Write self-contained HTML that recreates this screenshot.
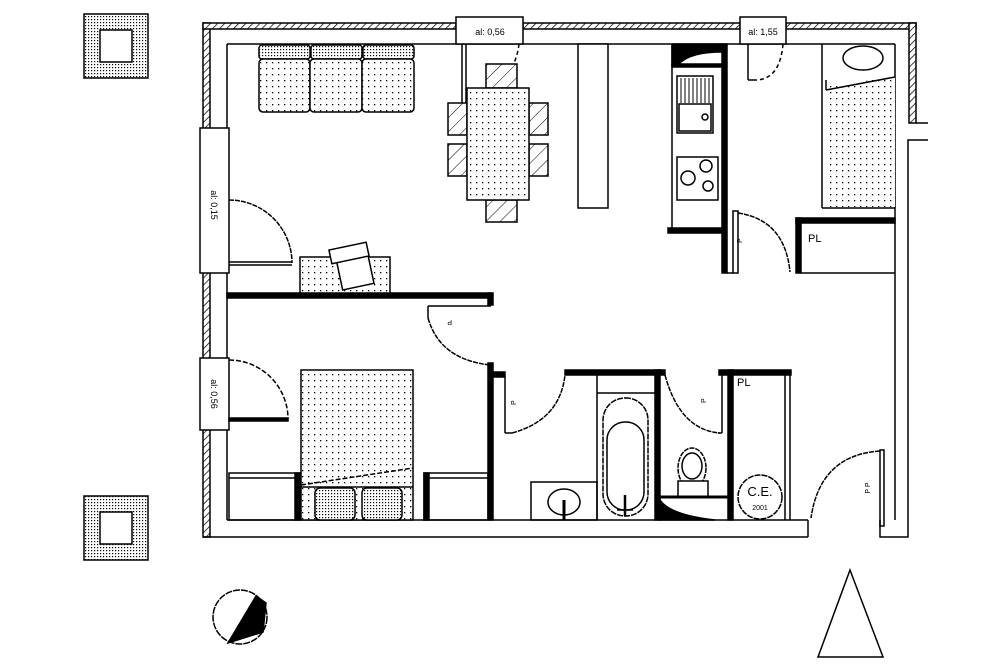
<!DOCTYPE html>
<html><head><meta charset="utf-8"><style>html,body{margin:0;padding:0;background:#fff}svg{display:block}</style></head>
<body>
<svg width="1000" height="667" viewBox="0 0 1000 667" xmlns="http://www.w3.org/2000/svg" font-family="Liberation Sans, sans-serif">
<defs>
<pattern id="dots" width="6" height="6" patternUnits="userSpaceOnUse"><rect width="6" height="6" fill="#fff"/><rect x="2" y="2" width="1.3" height="1.3" fill="#000"/></pattern>
<pattern id="fdots" width="3" height="3" patternUnits="userSpaceOnUse"><rect width="3" height="3" fill="#fff"/><rect x="1" y="1" width="1.2" height="1.2" fill="#000"/></pattern>
<pattern id="hatch" width="5" height="5" patternUnits="userSpaceOnUse" patternTransform="rotate(45)"><rect width="5" height="5" fill="#fff"/><line x1="0" y1="0" x2="0" y2="5" stroke="#000" stroke-width="1.5"/></pattern>
<pattern id="chair" width="10" height="10" patternUnits="userSpaceOnUse" patternTransform="rotate(45)"><rect width="10" height="10" fill="#fff"/><line x1="0" y1="0" x2="0" y2="10" stroke="#000" stroke-width="1"/></pattern>
</defs>
<g fill="none" stroke="#000" stroke-width="1.5">
<rect x="84" y="14" width="64" height="64" fill="url(#fdots)"/><rect x="100" y="30" width="32" height="32" fill="#fff"/>
<rect x="84" y="496" width="64" height="64" fill="url(#fdots)"/><rect x="100" y="512" width="32" height="32" fill="#fff"/>
<rect x="203" y="23" width="7" height="107" fill="url(#hatch)"/>
<rect x="203" y="272" width="7" height="88" fill="url(#hatch)"/>
<rect x="203" y="428" width="7" height="109" fill="url(#hatch)"/>
<rect x="203" y="23" width="253" height="6" fill="url(#hatch)"/>
<rect x="523" y="23" width="217" height="6" fill="url(#hatch)"/>
<rect x="786" y="23" width="130" height="6" fill="url(#hatch)"/>
<rect x="909" y="23" width="7" height="100" fill="url(#hatch)"/>
<line x1="227" y1="44" x2="895" y2="44"/>
<line x1="227" y1="44" x2="227" y2="520"/>
<line x1="895" y1="44" x2="895" y2="273"/>
<line x1="895" y1="273" x2="895" y2="520"/>
<polyline points="916,123 928,123"/>
<polyline points="928,140 908,140 908,537 880,537 880,520"/>
<line x1="203" y1="537" x2="808" y2="537"/>
<line x1="227" y1="520" x2="808" y2="520"/>
<line x1="808" y1="520" x2="808" y2="537"/>
<rect x="456" y="17" width="67" height="27" fill="#fff"/>
<text x="490" y="35" font-size="9" fill="#000" stroke="none" text-anchor="middle">al: 0,56</text>
<rect x="740" y="17" width="46" height="27" fill="#fff"/>
<text x="763" y="35" font-size="9" fill="#000" stroke="none" text-anchor="middle">al: 1,55</text>
<rect x="200" y="128" width="29" height="145" fill="#fff"/>
<text transform="translate(211,205) rotate(90)" font-size="9" fill="#000" stroke="none" text-anchor="middle">al: 0,15</text>
<rect x="200" y="358" width="29" height="72" fill="#fff"/>
<text transform="translate(211,394) rotate(90)" font-size="9" fill="#000" stroke="none" text-anchor="middle">al: 0,56</text>
<line x1="462" y1="44" x2="462" y2="105"/><line x1="466" y1="44" x2="466" y2="105"/>
<path d="M519,44 Q515,80 475,105" stroke-dasharray="4,3"/>
<line x1="748" y1="44" x2="748" y2="80"/><line x1="748" y1="80" x2="755" y2="80"/>
<path d="M783,44 Q780,80 755,80" stroke-dasharray="4,3"/>
<path d="M229,200 A63,63 0 0 1 292,263" stroke-dasharray="5,1"/>
<line x1="229" y1="262" x2="292" y2="262"/><line x1="229" y1="265" x2="292" y2="265"/>
<g fill="url(#fdots)"><rect x="259" y="45" width="51" height="14" rx="3"/><rect x="311" y="45" width="51" height="14" rx="3"/><rect x="363" y="45" width="51" height="14" rx="3"/></g>
<g fill="url(#dots)"><rect x="259" y="59" width="51" height="53" rx="4"/><rect x="310" y="59" width="52" height="53" rx="4"/><rect x="362" y="59" width="52" height="53" rx="4"/></g>
<g fill="url(#chair)"><rect x="486" y="64" width="31" height="24"/><rect x="486" y="200" width="31" height="22"/>
<rect x="448" y="103" width="19" height="32"/><rect x="448" y="144" width="19" height="32"/>
<rect x="529" y="103" width="19" height="32"/><rect x="529" y="144" width="19" height="32"/></g>
<rect x="467" y="88" width="62" height="112" fill="url(#dots)"/>
<rect x="578" y="44" width="30" height="164" fill="#fff"/>
<rect x="300" y="257" width="90" height="37" fill="url(#dots)"/>
<rect x="339" y="255" width="32" height="32" transform="rotate(-12 355 271)" fill="#fff"/>
<rect x="330" y="246" width="38" height="14" transform="rotate(-12 349 253)" fill="#fff"/>
<rect x="227" y="293" width="264" height="5" fill="#000"/>
<rect x="488" y="293" width="5" height="12" fill="#000"/>
<line x1="428" y1="306" x2="491" y2="306"/><line x1="428" y1="306" x2="428" y2="318"/>
<path d="M428,318 Q440,360 491,365" stroke-dasharray="5,1"/>
<text transform="translate(452,320) rotate(180)" font-size="7" fill="#000" stroke="none">P</text>
<rect x="488" y="363" width="5" height="157" fill="#000"/>
<path d="M229,360 A59,59 0 0 1 288,419" stroke-dasharray="5,2"/>
<rect x="229" y="418" width="59" height="3" fill="#000"/>
<rect x="301" y="370" width="112" height="150" fill="url(#dots)"/>
<line x1="301" y1="487" x2="413" y2="487"/>
<line x1="301" y1="485" x2="413" y2="468" stroke-dasharray="5,2"/>
<g fill="url(#fdots)"><rect x="315" y="488" width="40" height="32" rx="5"/><rect x="362" y="488" width="40" height="32" rx="5"/></g>
<rect x="229" y="473" width="71" height="47"/><line x1="229" y1="478" x2="295" y2="478"/><rect x="295" y="473" width="5" height="47" fill="#000"/>
<rect x="424" y="473" width="64" height="47"/><line x1="429" y1="478" x2="488" y2="478"/><rect x="424" y="473" width="5" height="47" fill="#000"/>
<rect x="493" y="372" width="12" height="5" fill="#000"/>
<line x1="505" y1="377" x2="505" y2="433"/><line x1="505" y1="433" x2="512" y2="433"/>
<path d="M512,433 Q560,420 565,375" stroke-dasharray="5,1"/>
<text transform="translate(516,405) rotate(-90)" font-size="7" fill="#000" stroke="none">P</text>
<rect x="565" y="370" width="95" height="5" fill="#000"/>
<rect x="655" y="370" width="5" height="150" fill="#000"/>
<line x1="597" y1="375" x2="597" y2="520"/>
<line x1="597" y1="393" x2="655" y2="393"/>
<rect x="603" y="398" width="45" height="118" rx="22" stroke-dasharray="6,1"/>
<rect x="607" y="422" width="37" height="88" rx="18"/>
<line x1="625" y1="495" x2="625" y2="516" stroke-width="2.5"/>
<line x1="617" y1="510" x2="633" y2="510"/>
<rect x="531" y="482" width="66" height="38"/>
<ellipse cx="564" cy="502" rx="16" ry="13"/><line x1="564" y1="500" x2="564" y2="520" stroke-width="3"/>
<rect x="660" y="370" width="5" height="5" fill="#000"/>
<path d="M665,375 Q680,430 720,433" stroke-dasharray="5,1"/>
<line x1="722" y1="372" x2="722" y2="433"/><line x1="722" y1="433" x2="718" y2="433"/>
<text transform="translate(706,403) rotate(-90)" font-size="7" fill="#000" stroke="none">P</text>
<rect x="719" y="370" width="72" height="5" fill="#000"/>
<rect x="728" y="370" width="5" height="150" fill="#000"/>
<ellipse cx="692" cy="468" rx="14" ry="20" stroke-dasharray="5,1"/>
<ellipse cx="692" cy="466" rx="10" ry="13"/>
<rect x="678" y="481" width="30" height="16" fill="#fff"/>
<line x1="660" y1="497" x2="728" y2="497" stroke-width="3"/>
<path d="M660,500 Q670,515 715,520 L660,520 Z" fill="#000"/>
<line x1="785" y1="375" x2="785" y2="520"/><line x1="790" y1="372" x2="790" y2="520"/>
<text x="737" y="386" font-size="11" fill="#000" stroke="none">PL</text>
<circle cx="760" cy="497" r="22" stroke-dasharray="6,1"/>
<text x="760" y="496" font-size="13" fill="#000" stroke="none" text-anchor="middle">C.E.</text>
<text x="760" y="510" font-size="7" fill="#000" stroke="none" text-anchor="middle">2001</text>
<path d="M880,451 Q820,455 811,518" stroke-dasharray="5,1"/>
<rect x="880" y="450" width="4" height="76"/>
<text transform="translate(870,488) rotate(-90)" font-size="7" fill="#000" stroke="none" text-anchor="middle">P P</text>
<rect x="722" y="44" width="5" height="229" fill="#000"/>
<line x1="672" y1="44" x2="672" y2="230"/>
<rect x="672" y="44" width="7" height="22" fill="#000"/>
<path d="M679,44 L722,44 L722,52 Q690,52 679,64 Z" fill="#000"/>
<rect x="672" y="64" width="50" height="3" fill="#000"/>
<rect x="677" y="76" width="36" height="57"/>
<g stroke-width="1"><line x1="681" y1="78" x2="681" y2="103"/><line x1="685" y1="78" x2="685" y2="103"/><line x1="689" y1="78" x2="689" y2="103"/><line x1="693" y1="78" x2="693" y2="103"/><line x1="697" y1="78" x2="697" y2="103"/><line x1="701" y1="78" x2="701" y2="103"/><line x1="705" y1="78" x2="705" y2="103"/><line x1="709" y1="78" x2="709" y2="103"/></g>
<rect x="679" y="104" width="32" height="27"/>
<circle cx="705" cy="117" r="3"/>
<rect x="677" y="157" width="41" height="43"/>
<circle cx="688" cy="178" r="7"/><circle cx="706" cy="166" r="6"/><circle cx="708" cy="186" r="5"/>
<rect x="668" y="228" width="54" height="5" fill="#000"/>
<rect x="733" y="211" width="5" height="62"/>
<path d="M738,213 Q785,220 790,272" stroke-dasharray="5,1"/>
<text transform="translate(742,243) rotate(-90)" font-size="7" fill="#000" stroke="none">P</text>
<rect x="796" y="218" width="99" height="5" fill="#000"/>
<rect x="796" y="218" width="5" height="55" fill="#000"/>
<line x1="801" y1="273" x2="895" y2="273"/>
<line x1="727" y1="273" x2="733" y2="273"/>
<text x="808" y="242" font-size="11" fill="#000" stroke="none">PL</text>
<line x1="822" y1="44" x2="822" y2="208"/>
<line x1="822" y1="208" x2="895" y2="208"/>
<path d="M826,86 L895,77 L895,207 L826,207 Z" fill="url(#dots)" stroke="none"/>
<line x1="826" y1="90" x2="895" y2="77"/>
<line x1="826" y1="80" x2="826" y2="90"/>
<ellipse cx="863" cy="58" rx="20" ry="12"/>
<circle cx="240" cy="617" r="27" stroke-dasharray="7,1"/>
<path d="M256,596 L266,603 L263,632 L228,643 Z" fill="#000"/>
<polygon points="850,570 818,657 883,657"/>
</g>
</svg>
</body></html>
